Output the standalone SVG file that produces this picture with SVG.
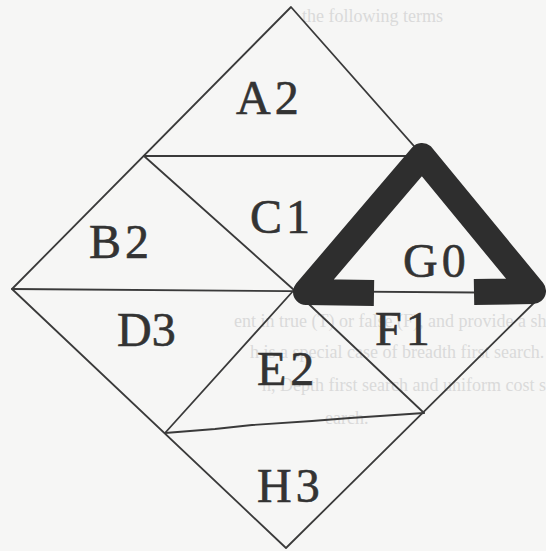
<svg xmlns="http://www.w3.org/2000/svg" width="546" height="551" viewBox="0 0 546 551">
<style>
.bg{fill:#f6f6f5}
.faint{font-family:"Liberation Serif","Times New Roman",serif;font-size:18px;fill:#dadada}
.edge{fill:none;stroke:#3a3a3a;stroke-width:1.8;stroke-linejoin:round;stroke-linecap:round}
.thick{fill:none;stroke:#2e2e2e;stroke-width:26;stroke-linejoin:round;stroke-linecap:butt}
.lbl{font-family:"Liberation Serif","Times New Roman",serif;font-size:48px;fill:#333;stroke:#333;stroke-width:0.6}
</style>
<rect class="bg" x="0" y="0" width="546" height="551"/>
<g id="background-text">
<text class="faint" x="302" y="22">the following terms</text>
<text class="faint" x="234" y="327">ent in true (T) or false (F), and provide a sh</text>
<text class="faint" x="250" y="358">h is a special case of breadth first search.</text>
<text class="faint" x="262" y="391">h, Depth first search and uniform cost s</text>
<text class="faint" x="325" y="424">earch.</text>
</g>
<g id="connectors">
<path class="edge" d="M291 7 L12 289 L286 548 L544 293 Z"/>
<path class="edge" d="M144 156 L423 156"/>
<path class="edge" d="M144 156 L294 290"/>
<path class="edge" d="M294 290 L423 156"/>
<path class="edge" d="M12 289 L544 293"/>
<path class="edge" d="M294 290 L165 433"/>
<path class="edge" d="M294 290 L424 413"/>
<path class="edge" d="M165 433 L215 429 L252 425 L312 421 L350 418 L380 416 L424 413"/>
<path class="thick" d="M374 293 L306 292 L422 156 L533 291 L474 292"/>
</g>
<g id="A2"><text class="lbl" x="236" y="114">A<tspan dx="4">2</tspan></text></g>
<g id="B2"><text class="lbl" x="89" y="258">B<tspan dx="4">2</tspan></text></g>
<g id="C1"><text class="lbl" x="250" y="233">C<tspan dx="4">1</tspan></text></g>
<g id="G0"><text class="lbl" x="403" y="277">G<tspan dx="4">0</tspan></text></g>
<g id="D3"><text class="lbl" x="117" y="346">D3</text></g>
<g id="F1"><text class="lbl" x="375" y="345">F<tspan dx="4">1</tspan></text></g>
<g id="E2"><text class="lbl" x="257" y="385">E<tspan dx="4">2</tspan></text></g>
<g id="H3"><text class="lbl" x="257" y="502">H<tspan dx="4">3</tspan></text></g>
</svg>
